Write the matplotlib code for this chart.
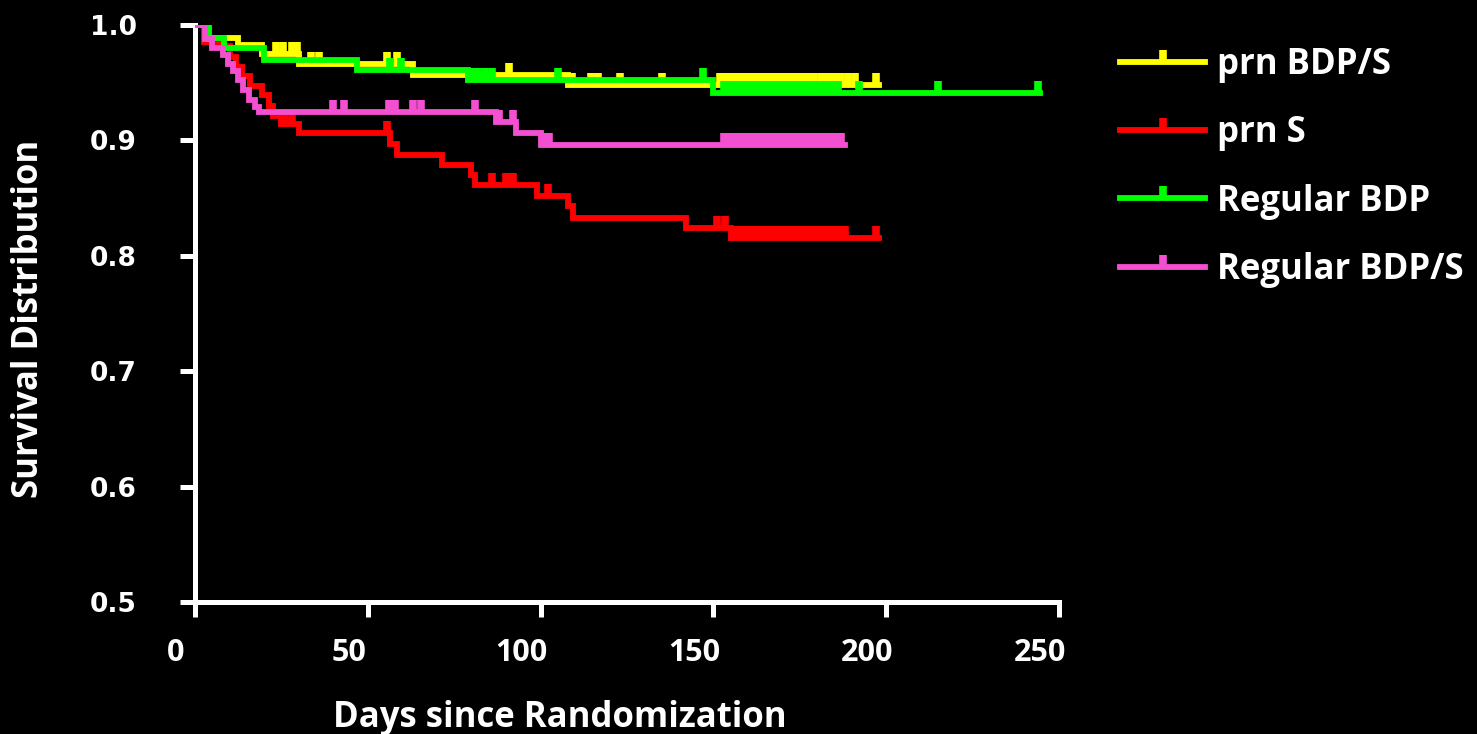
import numpy as np
import matplotlib
matplotlib.use("Agg")
import matplotlib.pyplot as plt
from matplotlib import transforms
from matplotlib import font_manager

# ----- Kaplan-Meier data: step days, survival after each step, censored days -----
days_prn_bdps = [0, 3, 12.5, 19.5, 30, 63, 108, 198]
surv_prn_bdps = [1.0, 0.989, 0.983, 0.975, 0.966, 0.957, 0.948, 0.948]
cens_prn_bdps = [23.5, 25.5, 28, 29.5, 33.5, 36, 55.5, 58.5, 91, 109, 114.5, 116.5, 123, 135,
                 152, 153.5, 155, 156, 157, 158, 159, 160, 161, 162, 163, 164, 165, 166, 167,
                 168, 169, 170, 171, 172, 173, 174, 175, 176, 177, 178, 179, 181, 182, 183,
                 184, 185, 186, 187, 189, 191, 197]

days_prn_s = [0, 2.5, 8, 10, 12, 13.5, 16, 19.5, 21.5, 22.5, 25, 30, 56.5, 58.5, 71.5, 80, 81,
              99, 108, 109.5, 142, 155, 198]
surv_prn_s = [1.0, 0.985, 0.982, 0.972, 0.964, 0.956, 0.947, 0.939, 0.930, 0.921, 0.914, 0.906,
              0.897, 0.887, 0.879, 0.870, 0.861, 0.852, 0.843, 0.833, 0.824, 0.815, 0.815]
cens_prn_s = [26, 28, 55.5, 86, 90, 92, 102, 151, 153.5, 156, 157, 158, 159, 160, 161, 162, 163,
              164, 165, 166, 167, 168, 169, 170, 171, 172, 173, 174, 175, 176, 177, 178, 179,
              180, 182, 183, 184, 185, 186, 187, 188, 197]

days_reg_bdp = [0, 4, 8.5, 20, 47, 79, 150, 244.5]
surv_reg_bdp = [1.0, 0.989, 0.980, 0.970, 0.961, 0.952, 0.941, 0.941]
cens_reg_bdp = [56.5, 59.5, 80, 82, 84, 86, 105, 147, 153, 154.5, 156, 157, 158, 159, 160, 161,
                162, 163, 164, 165, 166, 167, 168, 169, 170, 171, 172, 173, 174, 175, 176, 177,
                178, 180, 182, 184, 186, 192, 215, 244]

days_reg_bdps = [0, 3, 5, 8, 9.5, 11, 12.5, 14, 15.5, 17.5, 18.5, 87, 93, 100, 188]
surv_reg_bdps = [1.0, 0.988, 0.980, 0.974, 0.966, 0.960, 0.952, 0.944, 0.935, 0.929, 0.925,
                 0.916, 0.906, 0.896, 0.896]
cens_reg_bdps = [40, 43, 56, 58, 63, 65.5, 81, 88, 92, 101, 102.5, 153, 154, 155, 156, 157, 158,
                 159, 160, 161, 162, 163, 164, 165, 166, 167, 168, 169, 170, 171, 172, 173, 174,
                 175, 176, 177, 178, 179, 180, 181, 182, 183, 184, 185, 186, 187]

groups = ["prn BDP/S", "prn S", "Regular BDP", "Regular BDP/S"]
colors = ["#FFFF00", "#FF0000", "#00FF00", "#F24FD1"]
x_ticks = [0, 50, 100, 150, 200, 250]
y_ticks = [0.5, 0.6, 0.7, 0.8, 0.9, 1.0]

series = [
    (days_prn_bdps, surv_prn_bdps, cens_prn_bdps),
    (days_prn_s, surv_prn_s, cens_prn_s),
    (days_reg_bdp, surv_reg_bdp, cens_reg_bdp),
    (days_reg_bdps, surv_reg_bdps, cens_reg_bdps),
]

installed = {f.name for f in font_manager.fontManager.ttflist}
label_font = "Open Sans" if "Open Sans" in installed else "DejaVu Sans"

W, H, DPI = 1477, 734, 100
LW, MS, MEW = 4.2, 9, 5.5
fig = plt.figure(figsize=(W / DPI, H / DPI), dpi=DPI, facecolor="black")
ax = fig.add_axes([195 / W, 1 - 602 / H, 864 / W, 577 / H])
ax.set_facecolor("black")

for (d, s, c), name, col in zip(series, groups, colors):
    d = np.asarray(d, dtype=float)
    s = np.asarray(s, dtype=float)
    c = np.asarray(c, dtype=float)
    ax.step(d, s, where="post", color=col, lw=LW, solid_joinstyle="miter", zorder=3)
    # censored subjects sit on the curve at their day
    s_c = s[np.searchsorted(d, c, side="right") - 1]
    ax.plot(c, s_c, ls="none", marker=2, ms=MS, mew=MEW, color=col, zorder=3)
    ax.plot([], [], color=col, lw=LW, marker=2, ms=MS, mew=MEW, label=name)

ax.set_xlim(0, 250)
ax.set_ylim(0.5, 1.0)
ax.set_xticks(x_ticks)
ax.set_yticks(y_ticks)
ax.set_yticklabels([f"{v:.1f}" for v in y_ticks])

for side in ["top", "right"]:
    ax.spines[side].set_visible(False)
for side in ["left", "bottom"]:
    ax.spines[side].set_color("white")
    ax.spines[side].set_linewidth(3.6)
    ax.spines[side].set_capstyle("projecting")

ax.tick_params(axis="both", colors="white", direction="out", length=11, width=3.6)
ax.tick_params(axis="y", pad=31)
ax.tick_params(axis="x", pad=15)
for t in ax.get_yticklabels():
    t.set_fontfamily("DejaVu Sans")
    t.set_fontweight("bold")
    t.set_fontsize(19)
shift = transforms.ScaledTranslation(-19 / DPI, 0, fig.dpi_scale_trans)
for t in ax.get_xticklabels():
    t.set_fontfamily(label_font)
    t.set_fontweight("bold")
    t.set_fontsize(22)
    t.set_transform(t.get_transform() + shift)

fig.text(29 / W, 1 - 319 / H, "Survival Distribution", rotation=90, ha="center", va="center",
         color="white", fontsize=25, fontweight="bold", fontfamily=label_font)
fig.text(560 / W, 1 - 727 / H, "Days since Randomization", ha="center", va="baseline",
         color="white", fontsize=25, fontweight="bold", fontfamily=label_font)

leg = ax.legend(loc="upper left", bbox_to_anchor=(1120 / W, 1 - 47 / H),
                bbox_transform=fig.transFigure, frameon=False, numpoints=1,
                prop={"family": label_font, "weight": "bold", "size": 25},
                handlelength=2.45, handletextpad=0.35, labelspacing=0.93,
                borderpad=0, borderaxespad=0)
for t in leg.get_texts():
    t.set_color("white")

fig.savefig("out.png", dpi=DPI, facecolor="black")
